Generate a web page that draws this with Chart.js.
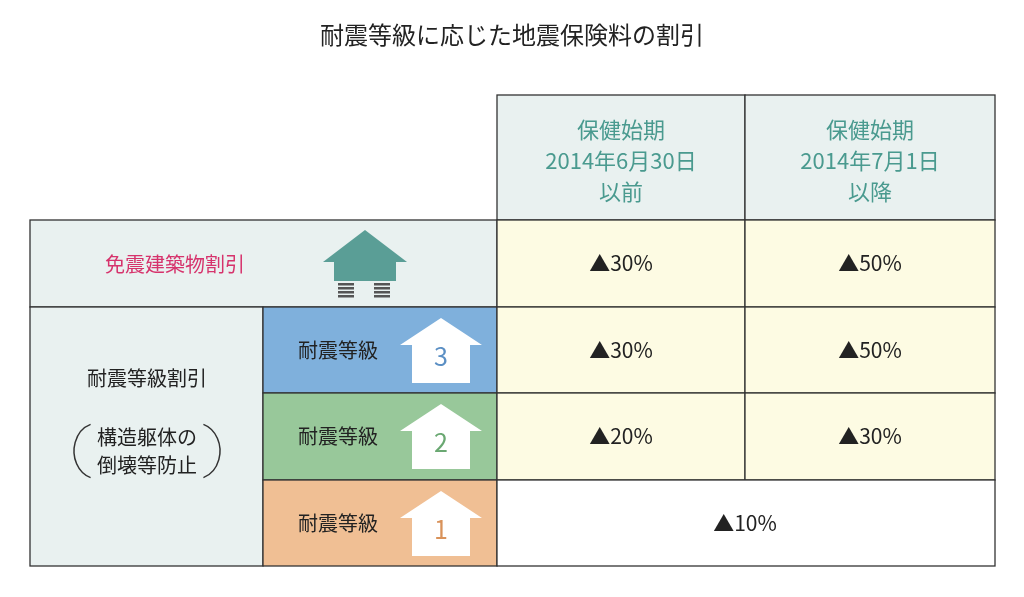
<!DOCTYPE html>
<html lang="ja">
<head>
<meta charset="UTF-8">
<title>耐震等級に応じた地震保険料の割引</title>
<script src="https://cdn.jsdelivr.net/npm/chart.js"></script>
<style>
  body { margin: 0; background: #fff; }
  #wrap { width: 1024px; height: 597px; }
</style>
</head>
<body>
<div id="wrap"><canvas id="table"></canvas></div>
<script>
const title = "耐震等級に応じた地震保険料の割引";
const periods = [["保健始期", "2014年6月30日", "以前"], ["保健始期", "2014年7月1日", "以降"]];
const rowLabels = ["免震建築物割引", "耐震等級", "耐震等級", "耐震等級"];
const grades = ["", "3", "2", "1"];
const groupLabel = ["耐震等級割引", "構造躯体の", "倒壊等防止"];
const beforeValues = ["▲30%", "▲30%", "▲20%", "▲10%"];
const afterValues = ["▲50%", "▲50%", "▲30%", "▲10%"];

const colEdges = [30, 263, 497, 745, 995];
const rowEdges = [95, 220, 307, 393, 480, 566];
const bandColors = ["#e9f1f0", "#7fb0dc", "#98c89a", "#f0bf94"];
const numColors = ["", "#5b8fc4", "#6aa872", "#d9925a"];
const FONT = '"Noto Sans CJK JP", "Noto Sans", sans-serif';

const tablePlugin = {
  id: "tablePlugin",
  afterDraw(chart) {
    const c = chart.ctx, xs = chart.scales.x, ys = chart.scales.y;
    const X = v => xs.getPixelForValue(v), Y = v => ys.getPixelForValue(v);
    const rect = (x0, y0, x1, y1, fill) => {
      c.fillStyle = fill;
      c.fillRect(X(x0), Y(y0), X(x1) - X(x0), Y(y1) - Y(y0));
      c.strokeStyle = "#333"; c.lineWidth = 1.3;
      c.strokeRect(X(x0), Y(y0), X(x1) - X(x0), Y(y1) - Y(y0));
    };
    const text = (s, x, y, color, size) => {
      c.fillStyle = color; c.font = size + "px " + FONT;
      c.textAlign = "center"; c.textBaseline = "middle";
      c.fillText(s, X(x), Y(y));
    };
    c.save();
    text(title, 512, 35, "#222", 24);
    // header
    periods.forEach((p, i) => {
      rect(colEdges[2 + i], rowEdges[0], colEdges[3 + i], rowEdges[1], "#e9f1f0");
      const cx = (colEdges[2 + i] + colEdges[3 + i]) / 2;
      p.forEach((s, j) => text(s, cx, 130 + j * 31, "#4a9a8f", 22));
    });
    // first row: 免震
    rect(colEdges[0], rowEdges[1], colEdges[2], rowEdges[2], bandColors[0]);
    text(rowLabels[0], 175, 264, "#d6336c", 20);
    c.fillStyle = "#5a9e96";
    c.beginPath();
    c.moveTo(X(365), Y(230)); c.lineTo(X(407), Y(262)); c.lineTo(X(396), Y(262));
    c.lineTo(X(396), Y(281)); c.lineTo(X(334), Y(281)); c.lineTo(X(334), Y(262));
    c.lineTo(X(323), Y(262)); c.closePath(); c.fill();
    c.fillStyle = "#555";
    [346, 382].forEach(sx => {
      for (let k = 0; k < 4; k++) c.fillRect(X(sx - 8), Y(283 + k * 4), 16, 2.5);
    });
    // group cell
    rect(colEdges[0], rowEdges[2], colEdges[1], rowEdges[5], bandColors[0]);
    text(groupLabel[0], 147, 378, "#222", 20);
    text(groupLabel[1], 147, 437, "#222", 20);
    text(groupLabel[2], 147, 465, "#222", 20);
    c.strokeStyle = "#333"; c.lineWidth = 1.5;
    c.beginPath(); c.ellipse(X(98), Y(451), 24, 28, 0, Math.PI * 0.6, Math.PI * 1.4); c.stroke();
    c.beginPath(); c.ellipse(X(196), Y(451), 24, 28, 0, -Math.PI * 0.4, Math.PI * 0.4); c.stroke();
    // graded rows
    for (let r = 1; r < 4; r++) {
      const y0 = rowEdges[r + 1], y1 = rowEdges[r + 2];
      rect(colEdges[1], y0, colEdges[2], y1, bandColors[r]);
      text(rowLabels[r], 338, (y0 + y1) / 2, "#222", 20);
      c.fillStyle = "#fff";
      c.beginPath();
      c.moveTo(X(441), Y(y0 + 11)); c.lineTo(X(482), Y(y0 + 38)); c.lineTo(X(470), Y(y0 + 38));
      c.lineTo(X(470), Y(y0 + 76)); c.lineTo(X(412), Y(y0 + 76)); c.lineTo(X(412), Y(y0 + 38));
      c.lineTo(X(400), Y(y0 + 38)); c.closePath(); c.fill();
      text(grades[r], 441, y0 + 49, numColors[r], 25);
    }
    // values
    for (let r = 0; r < 4; r++) {
      const y0 = rowEdges[r + 1], y1 = rowEdges[r + 2], cy = (y0 + y1) / 2;
      if (r === 3) {
        rect(colEdges[2], y0, colEdges[4], y1, "#fff");
        text(beforeValues[r], 745, cy, "#222", 21);
      } else {
        rect(colEdges[2], y0, colEdges[3], y1, "#fdfbe3");
        rect(colEdges[3], y0, colEdges[4], y1, "#fdfbe3");
        text(beforeValues[r], 621, cy, "#222", 21);
        text(afterValues[r], 870, cy, "#222", 21);
      }
    }
    c.restore();
  }
};

new Chart(document.getElementById("table"), {
  type: "scatter",
  data: { datasets: [{ data: [], pointRadius: 0 }] },
  options: {
    responsive: true, maintainAspectRatio: false, animation: false,
    layout: { padding: 0 },
    plugins: { legend: { display: false }, tooltip: { enabled: false } },
    scales: {
      x: { type: "linear", min: 0, max: 1024, display: false },
      y: { type: "linear", min: 0, max: 597, reverse: true, display: false }
    }
  },
  plugins: [tablePlugin]
});
</script>
</body>
</html>
